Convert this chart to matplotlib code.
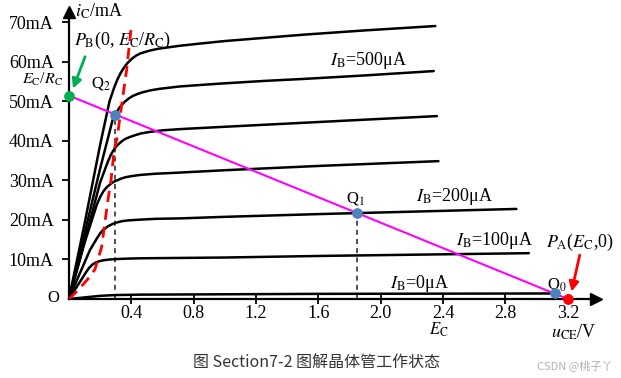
import numpy as np
import matplotlib
matplotlib.use("Agg")
import matplotlib.pyplot as plt

plt.rcParams["font.family"] = ["Liberation Serif", "DejaVu Serif"]
plt.rcParams["mathtext.fontset"] = "stix"

# ---------------------------------------------------------------------
# data (u_CE in V, i_C in mA)
# ---------------------------------------------------------------------
ib_values = [600, 500, 400, 300, 200, 100, 0]   # uA
curve_u = [
    [0, 0.10, 0.20, 0.26, 0.29, 0.31, 0.33, 0.35, 0.375, 0.40, 0.43, 0.46, 0.52, 0.58,
     0.71, 0.85, 1.00, 1.25, 1.50, 1.90, 2.35],
    [0, 0.10, 0.20, 0.28, 0.30, 0.32, 0.34, 0.36, 0.385, 0.41, 0.44, 0.47, 0.52, 0.58,
     0.71, 0.85, 1.00, 1.25, 1.50, 1.90, 2.34],
    [0, 0.10, 0.20, 0.25, 0.27, 0.29, 0.31, 0.335, 0.36, 0.39, 0.42, 0.46, 0.52, 0.60,
     0.71, 1.00, 1.25, 1.50, 1.90, 2.36],
    [0, 0.10, 0.18, 0.20, 0.22, 0.24, 0.26, 0.28, 0.30, 0.33, 0.36, 0.40, 0.455, 0.55,
     0.71, 1.00, 1.61, 2.37],
    [0, 0.07, 0.135, 0.18, 0.20, 0.22, 0.25, 0.275, 0.30, 0.34, 0.38, 0.46, 0.56, 0.71,
     1.00, 1.61, 2.87],
    [0, 0.07, 0.11, 0.13, 0.15, 0.17, 0.19, 0.22, 0.26, 0.30, 0.36, 0.45, 1.00, 1.61, 2.95],
    [0, 0.10, 0.20, 0.30, 0.45, 1.60, 3.12],
]
curve_i = [
    [0, 19.0, 39.0, 50.0, 53.5, 55.5, 57.1, 58.4, 59.7, 60.7, 61.6, 62.2, 62.9, 63.4,
     64.1, 64.7, 65.3, 66.1, 66.9, 68.0, 69.1],
    [0, 16.5, 33.0, 45.3, 46.9, 48.2, 49.2, 50.0, 50.8, 51.4, 51.9, 52.3, 52.8, 53.2,
     53.8, 54.2, 54.6, 55.2, 55.7, 56.6, 57.7],
    [0, 14.5, 29.5, 34.8, 36.6, 37.9, 38.9, 39.8, 40.5, 41.0, 41.4, 41.9, 42.3, 42.7,
     43.0, 43.6, 44.1, 44.6, 45.4, 46.3],
    [0, 14.2, 24.0, 25.8, 27.2, 28.2, 28.9, 29.5, 29.9, 30.4, 30.8, 31.1, 31.4, 31.7,
     32.0, 32.6, 33.7, 34.9],
    [0, 6.5, 12.4, 15.4, 16.6, 17.5, 18.4, 18.9, 19.3, 19.7, 19.9, 20.1, 20.3, 20.4,
     20.8, 21.5, 22.8],
    [0, 4.3, 6.8, 7.9, 8.7, 9.2, 9.5, 9.8, 10.0, 10.1, 10.2, 10.3, 10.5, 10.9, 11.6],
    [0, 0.4, 0.8, 1.0, 1.1, 1.3, 1.4],
]

# saturation boundary (red dashed)
sat_u = [0, 0.06, 0.12, 0.167, 0.21, 0.23, 0.25, 0.27, 0.29, 0.31, 0.34, 0.37, 0.40]
sat_i = [0, 2.3, 5.0, 7.5, 13.2, 19.2, 25.0, 30.1, 37.7, 41.0, 49.6, 58.0, 68.9]

# load line
E_C = 3.2          # V
I_sat = 51.5       # mA, E_C/R_C
q_names = ["Q$_2$", "Q$_1$", "Q$_0$"]
q_u = [0.295, 1.85, 3.115]
q_i = [46.6, 21.7, 1.4]

x_ticks = [0.4, 0.8, 1.2, 1.6, 2.0, 2.4, 2.8, 3.2]
y_ticks = [10, 20, 30, 40, 50, 60, 70]

# ---------------------------------------------------------------------
# plot
# ---------------------------------------------------------------------
fig = plt.figure(figsize=(6.21, 3.78), dpi=100)
ax = fig.add_axes([0.111, 0.209, 0.8486, 0.7587])
ax.set_xlim(0, 3.38)
ax.set_ylim(0, 72.6)

for s in ["top", "right"]:
    ax.spines[s].set_visible(False)
for s in ["left", "bottom"]:
    ax.spines[s].set_linewidth(1.6)
ax.plot(1, 0, ">k", ms=9, transform=ax.get_yaxis_transform(), clip_on=False)
ax.plot(0, 1, "^k", ms=9, transform=ax.get_xaxis_transform(), clip_on=False)

ax.set_xticks(x_ticks)
ax.set_xticklabels([f"{v:.1f}" for v in x_ticks], fontsize=13)
ax.set_yticks(y_ticks)
ax.set_yticklabels([f"{v}mA" for v in y_ticks], fontsize=13)
ax.tick_params(axis="x", direction="inout", length=7, width=1.3, pad=1)
ax.tick_params(axis="y", direction="out", length=5, width=1.3, pad=6)

# output characteristic curves
for u, i in zip(curve_u, curve_i):
    ax.plot(u, i, color="black", lw=1.8, solid_capstyle="round",
            solid_joinstyle="round", zorder=3)

ax.plot(sat_u, sat_i, color="red", lw=2.0, ls=(0, (4, 2.5)), zorder=4)

# projection lines of Q2 and Q1
ax.plot([q_u[0], q_u[0]], [0, q_i[0]], color="#333333", lw=1.2, ls=(0, (3, 2.5)), zorder=2)
ax.plot([q_u[1], q_u[1]], [0, q_i[1]], color="#333333", lw=1.2, ls=(0, (3, 2.5)), zorder=2)

# load line
ax.plot([0, E_C], [I_sat, 0], color="#ff00ff", lw=1.5, zorder=5, clip_on=False)
ax.scatter(q_u, q_i, s=45, color="#4f81bd", zorder=6, clip_on=False)
ax.scatter([0], [I_sat], s=45, color="#00b050", zorder=6, clip_on=False)
ax.scatter([E_C], [0], s=45, color="#ff0000", zorder=6, clip_on=False)

# arrows
ax.annotate("", xy=(0.02, 52.6), xytext=(0.11, 62.0),
            arrowprops=dict(arrowstyle="-|>", color="#00b050", lw=2, mutation_scale=14),
            annotation_clip=False)
ax.annotate("", xy=(3.22, 1.2), xytext=(3.28, 11.8),
            arrowprops=dict(arrowstyle="-|>", color="red", lw=2, mutation_scale=14),
            annotation_clip=False)

# texts
fs = 13
ax.text(0.04, 72.8, r"$i_{\rm C}$/mA", fontsize=fs, va="center", ha="left")
ax.text(0.03, 65.5, r"$P_{\rm B}$(0, $E_{\rm C}$/$R_{\rm C}$)", fontsize=fs, va="center", ha="left")
ax.text(-0.035, 55.6, r"$E_{\rm C}$/$R_{\rm C}$", fontsize=11.5, va="center", ha="right")
ax.text(0.205, 54.5, q_names[0], fontsize=12, va="center", ha="center")
ax.text(1.84, 25.4, q_names[1], fontsize=12, va="center", ha="center")
ax.text(3.13, 3.7, q_names[2], fontsize=12, va="center", ha="center")
ax.text(1.92, 60.5, r"$I_{\rm B}$=500μA", fontsize=fs, va="center", ha="center")
ax.text(2.47, 26.0, r"$I_{\rm B}$=200μA", fontsize=fs, va="center", ha="center")
ax.text(2.73, 14.9, r"$I_{\rm B}$=100μA", fontsize=fs, va="center", ha="center")
ax.text(2.25, 4.0, r"$I_{\rm B}$=0μA", fontsize=fs, va="center", ha="center")
ax.text(3.28, 14.3, r"$P_{\rm A}$($E_{\rm C}$,0)", fontsize=fs, va="center", ha="center")
ax.text(-0.1, 0.2, "O", fontsize=12, va="center", ha="center")
ax.text(2.37, -7.8, r"$E_{\rm C}$", fontsize=12, va="center", ha="center")
ax.text(3.24, -8.4, r"$u_{\rm CE}$/V", fontsize=fs, va="center", ha="center")

fig.text(0.51, 0.04, "图 Section7-2 图解晶体管工作状态", fontsize=11.5, color="#333333",
         family=["Noto Sans CJK SC", "DejaVu Sans"], ha="center", va="center")
fig.text(0.926, 0.034, "CSDN @桃子丫", fontsize=8, color="#b0b0b0",
         family=["Noto Sans CJK SC", "DejaVu Sans"], ha="center", va="center")

fig.savefig("out.png", dpi=100)
